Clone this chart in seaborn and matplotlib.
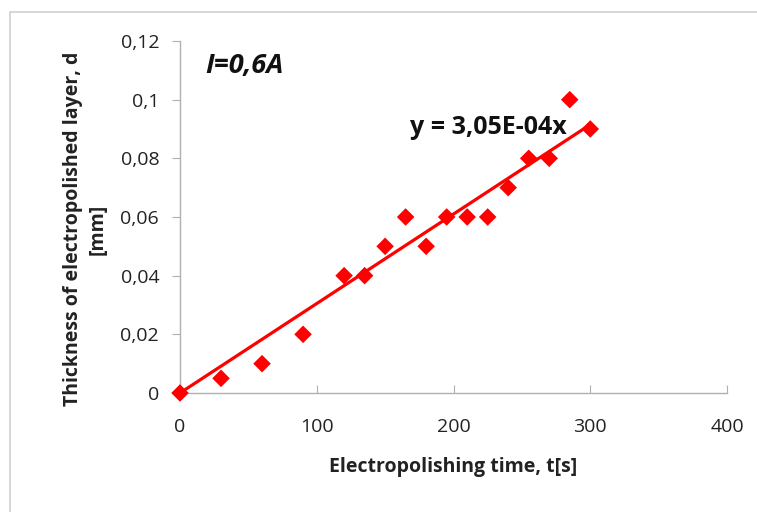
import matplotlib
matplotlib.use("Agg")
import matplotlib.pyplot as plt
import seaborn as sns
import numpy as np
import pandas as pd
from matplotlib.patches import Rectangle
from matplotlib.ticker import FuncFormatter

time_s = [0, 30, 60, 90, 120, 135, 150, 165, 180, 195, 210, 225, 240, 255, 270, 285, 300]
thickness_mm = [0, 0.005, 0.01, 0.02, 0.04, 0.04, 0.05, 0.06, 0.05, 0.06, 0.06, 0.06, 0.07, 0.08, 0.08, 0.1, 0.09]
slope = 3.05e-4
fit_x = [0, 300]
x_ticks = [0, 100, 200, 300, 400]
y_ticks = [0, 0.02, 0.04, 0.06, 0.08, 0.1, 0.12]

sns.set_style("white")
plt.rcParams['font.family'] = ['Open Sans', 'DejaVu Sans']

fig = plt.figure(figsize=(7.57, 5.12), dpi=100)
ax = fig.add_axes([180/757, 1-393/512, (727-180)/757, (393-41)/512])

df = pd.DataFrame({"t": time_s, "d": thickness_mm})
fit = pd.DataFrame({"t": fit_x, "d": [slope * v for v in fit_x]})

sns.lineplot(data=fit, x="t", y="d", ax=ax, color="#ff0000", linewidth=2.3, zorder=2)
sns.scatterplot(data=df, x="t", y="d", ax=ax, marker="D", s=80, color="#ff0000",
                edgecolor="none", zorder=3, clip_on=False)

ax.set_xlim(0, 400)
ax.set_ylim(0, 0.12)
ax.set_xticks(x_ticks)
ax.set_yticks(y_ticks)

def comma_fmt(v, pos):
    return ("%g" % round(v, 4)).replace(".", ",")
ax.yaxis.set_major_formatter(FuncFormatter(comma_fmt))
ax.xaxis.set_major_formatter(FuncFormatter(lambda v, p: "%d" % v))

for side in ["top", "right"]:
    ax.spines[side].set_visible(False)
for side in ["left", "bottom"]:
    ax.spines[side].set_color("#b0b0b0")
    ax.spines[side].set_linewidth(1)

ax.tick_params(axis="y", direction="out", length=6, color="#b0b0b0", labelsize=14, pad=9, labelcolor="#222222")
ax.tick_params(axis="x", direction="in", length=6, color="#b0b0b0", labelsize=14, pad=18, labelcolor="#222222")
ax.tick_params(left=True, bottom=True)

ax.set_xlabel("Electropolishing time, t[s]", fontsize=14, fontweight="bold", labelpad=15, color="#222222")
ax.set_ylabel("Thickness of electropolished layer, d\n[mm]", fontsize=14, fontweight="bold",
              color="#222222", linespacing=1.35)
ax.yaxis.set_label_coords((108 - 180) / 547, (393 - 229) / 352)

ax.text(205/757, 1-66/512, "I=0,6A", transform=fig.transFigure, fontsize=19.5, fontweight="bold",
        style="italic", va="center", ha="left", color="#111111")
ax.text(410/757, 1-127/512, "y = 3,05E-04x", transform=fig.transFigure, fontsize=18, fontweight="bold",
        va="center", ha="left", color="#111111")

fig.patches.append(Rectangle((10/757, -0.05), 1.2, 1 - 12/512 + 0.05, transform=fig.transFigure,
                             fill=False, edgecolor="#d0d0d0", linewidth=1.2))

fig.savefig("out.png", dpi=100)
